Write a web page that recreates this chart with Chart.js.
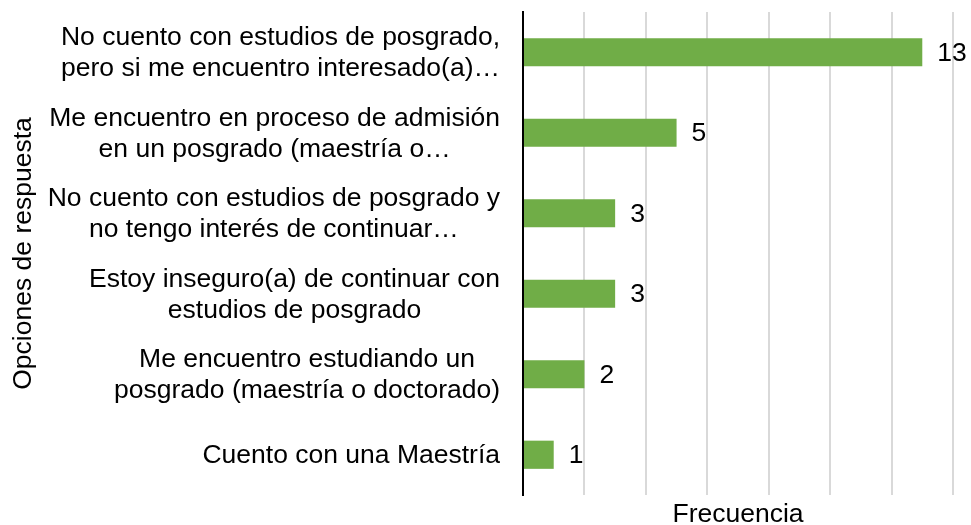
<!DOCTYPE html>
<html>
<head>
<meta charset="utf-8">
<script src="https://cdn.jsdelivr.net/npm/chart.js@4.4.1/dist/chart.umd.min.js"></script>
<style>
  html, body { margin: 0; padding: 0; background: #ffffff; }
  #wrap { width: 971px; height: 525px; }
</style>
</head>
<body>
<div id="wrap"><canvas id="c" width="971" height="525"></canvas></div>
<script>
// ---- data ----
const categories = [
  ["No cuento con estudios de posgrado,", "pero si me encuentro interesado(a)…"],
  ["Me encuentro en proceso de admisión", "en un posgrado (maestría o…"],
  ["No cuento con estudios de posgrado y", "no tengo interés de continuar…"],
  ["Estoy inseguro(a) de continuar con", "estudios de posgrado"],
  ["Me encuentro estudiando un", "posgrado (maestría o doctorado)"],
  ["Cuento con una Maestría"]
];
const frecuencia = [13, 5, 3, 3, 2, 1];
const xAxisTitle = "Frecuencia";
const yAxisTitle = "Opciones de respuesta";
const xMin = 0, xMax = 14, xStep = 2;

const FONT = "'Liberation Sans', Arial, sans-serif";
const FS = 26.5;

const labelsPlugin = {
  id: 'customLabels',
  afterDatasetsDraw(chart) {
    const ctx = chart.ctx;
    const meta = chart.getDatasetMeta(0);
    ctx.save();
    ctx.font = FS + "px " + FONT;
    ctx.fillStyle = "#000000";
    ctx.textBaseline = "middle";
    ctx.textAlign = "left";
    meta.data.forEach((bar, i) => {
      ctx.fillText(String(frecuencia[i]), bar.x + 15, bar.y + 1);
    });
    // category labels (centered lines, right-aligned block)
    const yScale = chart.scales.y;
    const right = chart.chartArea.left - 23;
    const lh = 31;
    ctx.textAlign = "center";
    categories.forEach((lines, i) => {
      const yc = yScale.getPixelForValue(i);
      let w = 0;
      lines.forEach(l => { w = Math.max(w, ctx.measureText(l).width); });
      const cx = right - w / 2;
      const y0 = yc - (lines.length - 1) * lh / 2;
      lines.forEach((l, k) => ctx.fillText(l, cx, y0 + k * lh + 1));
    });
    ctx.restore();
  }
};

new Chart(document.getElementById('c'), {
  type: 'bar',
  data: {
    labels: categories,
    datasets: [{
      data: frecuencia,
      backgroundColor: '#70ad47',
      borderWidth: 0,
      barPercentage: 0.35,
      categoryPercentage: 1.0
    }]
  },
  options: {
    indexAxis: 'y',
    responsive: false,
    devicePixelRatio: 1,
    animation: false,
    layout: { padding: { top: 12, right: 18, left: 0, bottom: 0 } },
    plugins: { legend: { display: false }, tooltip: { enabled: false } },
    scales: {
      x: {
        min: xMin, max: xMax,
        ticks: { display: false, stepSize: xStep },
        grid: { color: '#d9d9d9', lineWidth: 2, drawTicks: false },
        border: { display: false },
        title: {
          display: true, text: xAxisTitle, color: '#000000',
          font: { family: FONT, size: FS },
          padding: { top: 0, bottom: -6 }
        },
        afterFit(scale) { scale.height = 30; }
      },
      y: {
        ticks: { display: false },
        grid: { display: false, drawTicks: false },
        border: { display: true, color: '#000000', width: 2 },
        title: {
          display: true, text: yAxisTitle, color: '#000000',
          font: { family: FONT, size: FS },
          padding: { top: 8, bottom: 0 }
        },
        afterFit(scale) { scale.width = 523; }
      }
    }
  },
  plugins: [labelsPlugin]
});
</script>
</body>
</html>
